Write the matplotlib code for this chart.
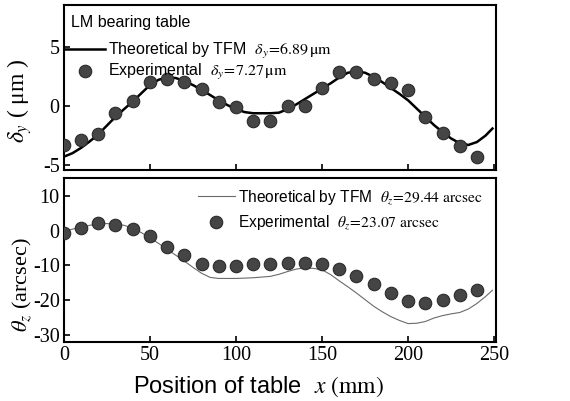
import matplotlib
matplotlib.use("Agg")
import matplotlib.pyplot as plt
from matplotlib.lines import Line2D

plt.rcParams['font.family'] = ['Liberation Serif', 'DejaVu Serif']
plt.rcParams['mathtext.fontset'] = 'stix'
plt.rcParams['axes.unicode_minus'] = False

# measurement positions along the table (mm)
pos = [0, 10, 20, 30, 40, 50, 60, 70, 80, 90, 100, 110, 120,
       130, 140, 150, 160, 170, 180, 190, 200, 210, 220, 230, 240]

# straightness error delta_y (um)
dy_exp = [-3.3, -2.9, -2.4, -0.6, 0.45, 2.05, 2.35, 2.1, 1.45, 0.4, -0.05,
          -1.25, -1.3, 0.05, 0.0, 1.55, 2.95, 2.95, 2.3, 2.0, 1.35, -0.9,
          -2.3, -3.4, -4.3]

dy_tfm_x = [0, 5, 10, 15, 20, 25, 30, 35, 40, 45, 50, 55, 60, 65, 70, 75,
            80, 85, 90, 95, 100, 105, 110, 115, 120, 125, 130, 135, 140,
            145, 150, 155, 160, 165, 170, 175, 180, 185, 190, 195, 200,
            205, 210, 215, 220, 225, 230, 235, 240, 245, 249]
dy_tfm = [-4.3, -4.0, -3.55, -3.0, -2.4, -1.65, -0.9, -0.25, 0.4, 1.1, 1.8,
          2.25, 2.45, 2.4, 2.15, 1.8, 1.4, 0.95, 0.5, 0.1, -0.25, -0.5, -0.6,
          -0.6, -0.6, -0.55, -0.25, 0.15, 0.6, 1.05, 1.5, 1.95, 2.45, 2.85,
          2.95, 2.85, 2.5, 2.05, 1.55, 1.05, 0.5, -0.2, -0.9, -1.6, -2.2,
          -2.75, -3.15, -3.3, -3.05, -2.5, -1.9]

# yaw error theta_z (arcsec)
tz_exp = [-0.7, 0.8, 2.1, 1.6, 0.5, -1.7, -4.6, -7.0, -9.5, -10.2, -10.1,
          -9.7, -9.7, -9.4, -9.3, -9.6, -11.0, -13.2, -15.5, -18.1, -20.4,
          -20.8, -20.0, -18.7, -17.0]

tz_tfm_x = dy_tfm_x
tz_tfm = [-0.3, 0.4, 1.0, 1.5, 1.9, 2.0, 1.9, 1.5, 0.7, -0.6, -2.1, -3.7,
          -5.4, -7.1, -8.8, -10.6, -12.3, -13.5, -13.8, -13.8, -13.8, -13.7,
          -13.6, -13.4, -13.2, -12.6, -11.8, -11.1, -10.8, -10.9, -11.3,
          -12.7, -14.5, -16.2, -18.0, -19.9, -21.8, -23.4, -24.8, -25.9,
          -26.8, -26.7, -26.2, -25.2, -24.5, -24.0, -23.6, -22.6, -21.0,
          -19.0, -17.2]

sans = 'Liberation Sans'
dot_kw = dict(marker='o', linestyle='none', markersize=9,
              markerfacecolor='#454545', markeredgecolor='#2a2a2a',
              markeredgewidth=0.8)

fig = plt.figure(figsize=(5.7, 4.01), dpi=100)
ax1 = fig.add_axes([0.112, 0.577, 0.758, 0.410])
ax2 = fig.add_axes([0.112, 0.148, 0.758, 0.407])

for ax in (ax1, ax2):
    ax.set_xlim(0, 251)
    ax.set_xticks([0, 50, 100, 150, 200, 250])
    ax.tick_params(direction='in', length=4, width=1.2, labelsize=14.5,
                   top=False, right=False, pad=3)
    for sp in ax.spines.values():
        sp.set_linewidth(1.5)

# top panel: straightness
ax1.plot(dy_tfm_x, dy_tfm, color='black', lw=1.8, zorder=2)
ax1.plot(pos, dy_exp, zorder=3, **dot_kw)
ax1.set_ylim(-5.4, 8.6)
ax1.set_yticks([-5, 0, 5])
ax1.tick_params(axis='x', labelbottom=False)
ax1.set_ylabel(r'$\delta_y$ ( μm )', fontsize=17)
ax1.yaxis.set_label_coords(-0.068, 0.42)

ax1.text(0.016, 0.94, 'LM bearing table', transform=ax1.transAxes,
         family=sans, fontsize=11.5, va='top', ha='left')
h1 = [Line2D([], [], color='black', lw=1.8), Line2D([], [], **dot_kw)]
l1 = [r'Theoretical by TFM  $\delta_y\!=\!6.89\,\mathrm{\mu m}$',
      r'Experimental  $\delta_y\!=\!7.27\,\mathrm{\mu m}$']
ax1.legend(h1, l1, loc='upper left', bbox_to_anchor=(0.0, 0.785),
           frameon=False, handlelength=2.6, handletextpad=0.15,
           borderaxespad=0.0, borderpad=0.0, labelspacing=0.12,
           prop={'family': sans, 'size': 11.5})

# bottom panel: yaw
ax2.plot(tz_tfm_x, tz_tfm, color='#6a6a6a', lw=0.8, zorder=2)
ax2.plot(pos, tz_exp, zorder=3, **dot_kw)
ax2.set_ylim(-32, 15)
ax2.set_yticks([-30, -20, -10, 0, 10])
ax2.set_ylabel(r'$\theta_z$ (arcsec)', fontsize=16)
ax2.yaxis.set_label_coords(-0.068, 0.35)
ax2.set_xlabel(r'Position of table  $x\ \mathrm{(mm)}$', family=sans,
               fontsize=17)
ax2.xaxis.set_label_coords(0.45, -0.2)

h2 = [Line2D([], [], color='#6a6a6a', lw=0.8), Line2D([], [], **dot_kw)]
l2 = [r'Theoretical by TFM  $\theta_z\!=\!29.44\ \mathrm{arcsec}$',
      r'Experimental  $\theta_z\!=\!23.07\ \mathrm{arcsec}$']
ax2.legend(h2, l2, loc='upper right', bbox_to_anchor=(0.97, 0.94),
           frameon=False, handlelength=2.4, handletextpad=0.2,
           borderaxespad=0.0, borderpad=0.0, labelspacing=0.45,
           prop={'family': sans, 'size': 11.2})

fig.savefig('out.png', dpi=100)
